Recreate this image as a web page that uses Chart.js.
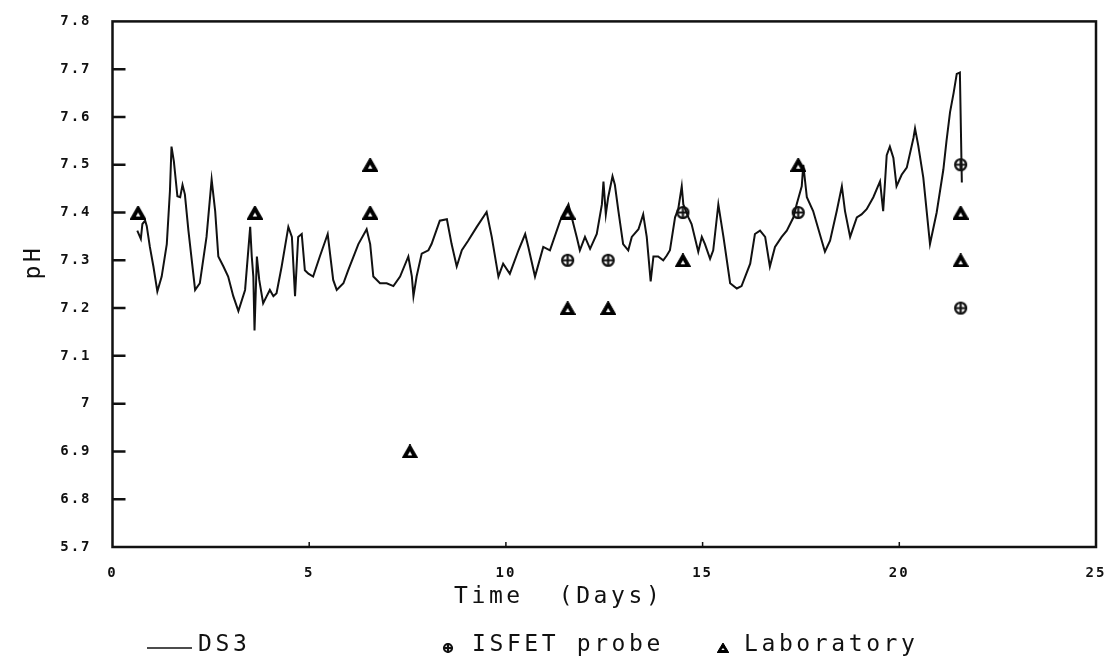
<!DOCTYPE html>
<html>
<head>
<meta charset="utf-8">
<title>pH - DS3</title>
<script src="https://cdn.jsdelivr.net/npm/chart.js@4.4.0/dist/chart.umd.min.js"></script>
<style>
html, body { margin: 0; padding: 0; background: #fff; }
</style>
</head>
<body>
<canvas id="ph-canvas" width="1115" height="663"></canvas>
<script>
// DS3 sensor trace (time in days, pH)
var dsDays = [0.63,0.72,0.76,0.83,0.87,0.95,1.04,1.14,1.25,1.38,1.46,1.50,1.56,1.65,1.72,1.78,1.84,1.93,2.10,2.22,
  2.39,2.52,2.61,2.69,2.82,2.94,3.07,3.20,3.37,3.50,3.54,3.58,3.61,3.67,3.73,3.83,3.92,4.00,4.09,4.17,
  4.30,4.47,4.56,4.64,4.72,4.81,4.89,4.98,5.10,5.27,5.47,5.61,5.70,5.87,5.99,6.25,6.46,6.55,6.63,6.80,
  6.97,7.14,7.31,7.52,7.61,7.65,7.73,7.86,8.03,8.11,8.32,8.50,8.62,8.75,8.88,9.04,9.26,9.51,9.64,9.81,
  9.93,10.10,10.32,10.49,10.57,10.74,10.95,11.12,11.38,11.59,11.80,11.88,12.01,12.14,12.31,12.44,12.48,12.54,12.60,12.71,
  12.77,12.86,12.98,13.11,13.20,13.37,13.49,13.58,13.68,13.75,13.87,14.00,14.09,14.17,14.30,14.38,14.47,14.51,14.64,14.72,
  14.89,14.98,15.06,15.19,15.27,15.40,15.53,15.70,15.87,15.99,16.21,16.33,16.46,16.59,16.71,16.84,17.01,17.14,17.31,17.39,
  17.52,17.56,17.65,17.81,18.11,18.24,18.41,18.54,18.62,18.75,18.92,19.04,19.17,19.34,19.51,19.59,19.68,19.76,19.85,19.93,
  20.06,20.19,20.36,20.40,20.48,20.61,20.78,20.95,21.12,21.20,21.29,21.38,21.46,21.54,21.59];
var dsPh = [7.362,7.345,7.376,7.383,7.372,7.328,7.287,7.235,7.266,7.334,7.445,7.538,7.507,7.434,7.432,7.458,7.438,7.362,7.238,7.252,
  7.349,7.469,7.403,7.308,7.287,7.266,7.225,7.194,7.238,7.370,7.308,7.266,7.153,7.308,7.259,7.210,7.225,7.238,7.225,7.231,
  7.287,7.370,7.349,7.225,7.349,7.355,7.279,7.272,7.266,7.308,7.355,7.259,7.238,7.252,7.279,7.334,7.365,7.334,7.266,7.252,
  7.252,7.246,7.266,7.308,7.266,7.225,7.266,7.314,7.321,7.334,7.383,7.386,7.334,7.287,7.321,7.341,7.370,7.401,7.349,7.266,
  7.293,7.272,7.321,7.355,7.328,7.266,7.328,7.321,7.383,7.417,7.349,7.321,7.349,7.324,7.355,7.417,7.465,7.396,7.432,7.476,
  7.458,7.403,7.334,7.321,7.349,7.365,7.396,7.349,7.256,7.308,7.308,7.300,7.310,7.321,7.390,7.407,7.455,7.417,7.390,7.376,
  7.318,7.349,7.334,7.303,7.321,7.417,7.349,7.252,7.241,7.246,7.293,7.355,7.362,7.349,7.287,7.328,7.349,7.362,7.390,7.417,
  7.455,7.500,7.432,7.403,7.318,7.341,7.403,7.455,7.403,7.349,7.390,7.396,7.407,7.432,7.465,7.403,7.520,7.538,7.514,7.455,
  7.479,7.494,7.556,7.576,7.541,7.473,7.334,7.400,7.490,7.550,7.610,7.650,7.690,7.693,7.463];

// ISFET probe readings
var isfetDays = [11.57,12.60,14.50,17.43,21.56,21.56];
var isfetPh   = [7.3,7.3,7.4,7.4,7.5,7.2];

// laboratory samples
var labDays = [0.65,3.62,6.55,6.55,7.56,11.57,11.57,12.60,14.50,17.43,21.56,21.56];
var labPh   = [7.4,7.4,7.5,7.4,6.9,7.4,7.2,7.2,7.3,7.5,7.4,7.3];

var xTickValues = [0,5,10,15,20,25];
var xTickLabels = ['0','5','10','15','20','25'];
var yTickValues = [6.7,6.8,6.9,7.0,7.1,7.2,7.3,7.4,7.5,7.6,7.7,7.8];
var yTickLabels = ['5.7','6.8','6.9','7','7.1','7.2','7.3','7.4','7.5','7.6','7.7','7.8'];

var seriesNames = ['DS3','ISFET probe','Laboratory'];
var xTitle = 'Time  (Days)';
var yTitle = 'pH';

var ink = '#111';

function pairs(xs, ys){
  return xs.map(function(x, i){ return {x: x, y: ys[i]}; });
}

// circle with a cross, used for the ISFET points
function crossCircle(size){
  var cv = document.createElement('canvas');
  cv.width = size; cv.height = size;
  var c = cv.getContext('2d');
  var m = size / 2, r = size / 2 - 2;
  c.strokeStyle = ink;
  c.lineWidth = 2.2;
  c.beginPath();
  c.arc(m, m, r, 0, Math.PI * 2);
  c.stroke();
  c.beginPath();
  c.moveTo(m, 1); c.lineTo(m, size - 1);
  c.moveTo(1, m); c.lineTo(size - 1, m);
  c.stroke();
  return cv;
}

// solid triangle with a small white eye, used for the lab samples
function labTriangle(w, h){
  var cv = document.createElement('canvas');
  cv.width = w; cv.height = h;
  var c = cv.getContext('2d');
  var m = w / 2;
  c.fillStyle = '#000';
  c.strokeStyle = '#000';
  c.lineWidth = 1;
  c.beginPath();
  c.moveTo(m, 0); c.lineTo(w, h); c.lineTo(0, h);
  c.closePath();
  c.fill();
  c.stroke();
  c.fillStyle = '#fff';
  c.beginPath();
  c.moveTo(m, h * 0.5); c.lineTo(m + w * 0.14, h - 3); c.lineTo(m - w * 0.14, h - 3);
  c.closePath();
  c.fill();
  return cv;
}

var isfetMark = crossCircle(15);
var isfetSmall = crossCircle(12);
var labMark = labTriangle(16, 14);
var labSmall = labTriangle(12, 10);

var plotFrame = {
  id: 'plotFrame',
  beforeDraw: function(chart){
    chart.ctx.letterSpacing = '2px';
  },
  afterDraw: function(chart){
    var c = chart.ctx, a = chart.chartArea;
    var ys = chart.scales.y, xs = chart.scales.x;
    c.save();
    c.strokeStyle = ink;
    c.lineWidth = 2.5;
    c.strokeRect(a.left, a.top, a.right - a.left, a.bottom - a.top);

    // inward ticks
    c.beginPath();
    yTickValues.slice(1, -1).forEach(function(v){
      var y = ys.getPixelForValue(v);
      c.moveTo(a.left, y); c.lineTo(a.left + 13, y);
    });
    c.stroke();
    c.lineWidth = 1.5;
    c.beginPath();
    xTickValues.slice(1, -1).forEach(function(v){
      var x = xs.getPixelForValue(v);
      c.moveTo(x, a.bottom); c.lineTo(x, a.bottom - 5);
    });
    c.stroke();

    // axis titles
    c.letterSpacing = '3.6px';
    c.font = '23px "DejaVu Sans Mono"';
    c.fillStyle = ink;
    c.textBaseline = 'alphabetic';
    c.textAlign = 'left';
    c.fillText(xTitle, 454, 603);

    c.save();
    c.translate(40, 262);
    c.rotate(-Math.PI / 2);
    c.textAlign = 'center';
    c.fillText(yTitle, 0, 0);
    c.restore();

    // legend
    c.lineWidth = 1.5;
    c.beginPath();
    c.moveTo(147, 648); c.lineTo(192, 648);
    c.stroke();
    c.fillText(seriesNames[0], 198, 651);
    c.drawImage(isfetSmall, 448 - 6, 648 - 6);
    c.fillText(seriesNames[1], 472, 651);
    c.drawImage(labSmall, 723 - 6, 649 - 6);
    c.fillText(seriesNames[2], 744, 651);
    c.restore();
  }
};

var ctx = document.getElementById('ph-canvas');
var chart = new Chart(ctx, {
  type: 'scatter',
  data: {
    datasets: [
      {
        label: seriesNames[0],
        data: pairs(dsDays, dsPh),
        showLine: true,
        borderColor: ink,
        borderWidth: 2,
        pointRadius: 0,
        tension: 0,
        order: 3
      },
      {
        label: seriesNames[1],
        data: pairs(isfetDays, isfetPh),
        pointStyle: isfetMark,
        pointRadius: 7,
        order: 1
      },
      {
        label: seriesNames[2],
        data: pairs(labDays, labPh),
        pointStyle: labMark,
        pointRadius: 7,
        order: 2
      }
    ]
  },
  options: {
    responsive: false,
    animation: false,
    events: [],
    layout: { padding: { top: 15, right: 19, left: 0, bottom: 0 } },
    plugins: {
      legend: { display: false },
      tooltip: { enabled: false }
    },
    scales: {
      x: {
        type: 'linear',
        min: 0,
        max: 25,
        grid: { display: false },
        border: { display: false },
        afterBuildTicks: function(s){ s.ticks = xTickValues.map(function(v){ return {value: v}; }); },
        afterFit: function(s){ s.height = 116; },
        ticks: {
          padding: 10,
          maxRotation: 0,
          autoSkip: false,
          color: ink,
          font: { family: 'DejaVu Sans Mono', size: 14, weight: 'bold' },
          callback: function(v, i){ return xTickLabels[i]; }
        }
      },
      y: {
        type: 'linear',
        min: 6.7,
        max: 7.8,
        grid: { display: false },
        border: { display: false },
        afterBuildTicks: function(s){ s.ticks = yTickValues.map(function(v){ return {value: v}; }); },
        afterFit: function(s){ s.width = 112.5; },
        ticks: {
          padding: 13,
          color: ink,
          font: { family: 'DejaVu Sans Mono', size: 14, weight: 'bold' },
          callback: function(v, i){ return yTickLabels[i]; }
        }
      }
    }
  },
  plugins: [plotFrame]
});
</script>
</body>
</html>
